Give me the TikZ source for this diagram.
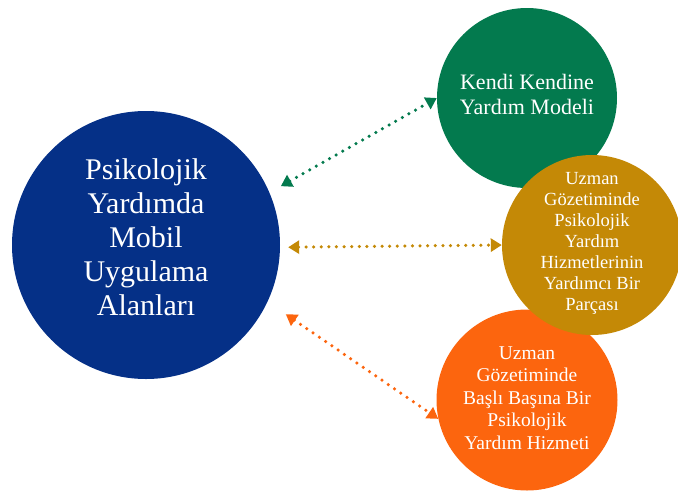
\documentclass[tikz,border=0pt]{standalone}
\usepackage{fontspec}
\setmainfont{Liberation Serif}
\usepackage{tikz}
\usetikzlibrary{arrows.meta}
\definecolor{mavi}{RGB}{5,48,135}
\definecolor{yesil}{RGB}{3,122,78}
\definecolor{hardal}{RGB}{196,137,6}
\definecolor{turuncu}{RGB}{252,101,14}
\tikzset{daire/.style={circle, inner sep=0pt, draw=none}}
\tikzset{yazi/.style={text=white, align=center, inner sep=0pt}}
\tikzset{ok/.style={line width=3.5pt, line cap=round, dash pattern=on 0pt off 7.6pt,
  {Triangle[length=11pt,width=13pt]}-{Triangle[length=11pt,width=13pt]}}}

\begin{document}
\begin{tikzpicture}[x=1pt,y=-1pt]
\useasboundingbox (0,0) rectangle (678,491);
\node[daire, fill=mavi, minimum size=268pt] (buyuk) at (146,245) {};
\node[daire, fill=yesil, minimum size=180pt] (kendi) at (527,98) {};
\node[daire, fill=turuncu, minimum size=181pt] (basli) at (527,400) {};
\node[daire, fill=hardal, minimum size=180pt] (parca) at (592,245) {};
\node[yazi, font=\fontsize{30}{34}\selectfont] (tbuyuk) at (146,237)
  {Psikolojik\\Yardımda\\Mobil\\Uygulama\\Alanları};
\node[yazi, font=\fontsize{22}{25}\selectfont] (tkendi) at (527,94)
  {Kendi Kendine\\Yardım Modeli};
\node[yazi, font=\fontsize{18.5}{21}\selectfont] (tparca) at (592,243)
  {Uzman\\Gözetiminde\\Psikolojik\\Yardım\\Hizmetlerinin\\Yardımcı Bir\\Parçası};
\node[yazi, font=\fontsize{19.5}{22.5}\selectfont] (tbasli) at (527,398)
  {Uzman\\Gözetiminde\\Başlı Başına Bir\\Psikolojik\\Yardım Hizmeti};
\draw[ok, yesil, shorten <=13pt] (buyuk.23) -- (kendi.180);
\draw[ok, hardal, shorten <=8pt] (buyuk.-1) -- (parca.180);
\draw[ok, turuncu, shorten <=22pt] (buyuk.-25) -- (basli.192);
\end{tikzpicture}
\end{document}
